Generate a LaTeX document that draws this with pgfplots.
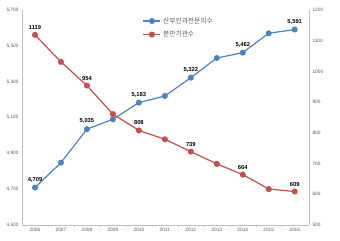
\documentclass[border=0pt]{standalone}
\usepackage{pgfplots}
\pgfplotsset{compat=1.18}
\usepackage{fontspec}
\setmainfont{Liberation Sans}
\newfontfamily\kr{Noto Sans CJK KR}
\definecolor{sblue}{HTML}{4F81BD}
\definecolor{sred}{HTML}{C0504D}
\definecolor{axgray}{HTML}{BFBFBF}
\definecolor{txtgray}{HTML}{595959}
\begin{document}
\begin{tikzpicture}
\pgfplotsset{
  every axis/.append style={
    scale only axis, width=287bp, height=215bp,
    xmin=2005.5, xmax=2016.55,
    axis line style={axgray, line width=0.6pt},
    tick style={axgray, line width=0.5pt},
    tick label style={font=\fontsize{4.8}{5}\selectfont, text=txtgray},
    /pgf/number format/assume math mode=true,
  }
}
\begin{axis}[
  axis y line*=left, axis x line*=bottom,
  ymin=4500, ymax=5700, ytick={4500,4700,...,5700},
  yticklabel style={/pgf/number format/1000 sep={,}},
  xtick={2006,...,2016},
  xticklabel style={/pgf/number format/1000 sep={}},
  major tick length=0pt,
  extra x ticks={2006.5,2007.5,...,2015.5},
  extra x tick labels={},
  extra x tick style={major tick length=2bp, tick align=outside},
  ytick style={draw=none},
  legend style={draw=none, fill=none, at={(0.41,0.985)}, anchor=north west,
    font=\kr\fontsize{6.8}{8}\selectfont, text=txtgray, row sep=2.5bp},
  legend cell align=left,
]
\addplot[sblue, line width=1.2pt, mark=*, mark size=2.4pt,
  nodes near coords, point meta=explicit symbolic,
  every node near coord/.style={font=\bfseries\fontsize{5.8}{6}\selectfont, text=black, anchor=south, yshift=1.5bp}]
coordinates {
(2006,4709) [4,709]
(2007,4848) []
(2008,5035) [5,035]
(2009,5090) []
(2010,5183) [5,183]
(2011,5220) []
(2012,5322) [5,322]
(2013,5432) []
(2014,5462) [5,462]
(2015,5570) []
(2016,5591) [5,591]
};
\addlegendentry{산부인과전문의수}
\addlegendimage{sred, line width=1.2pt, mark=*, mark size=2.4pt}
\addlegendentry{분만기관수}
\end{axis}
\begin{axis}[
  axis y line*=right, axis x line=none,
  ymin=500, ymax=1200, ytick={500,600,...,1200},
  yticklabel style={/pgf/number format/1000 sep={}},
  ytick style={draw=none},
]
\addplot[sred, line width=1.2pt, mark=*, mark size=2.4pt,
  nodes near coords, point meta=explicit symbolic,
  every node near coord/.style={font=\bfseries\fontsize{5.8}{6}\selectfont, text=black, anchor=south, yshift=1.5bp}]
coordinates {
(2006,1119) [1119]
(2007,1031) []
(2008,954) [954]
(2009,861) []
(2010,808) [808]
(2011,779) []
(2012,739) [739]
(2013,699) []
(2014,664) [664]
(2015,617) []
(2016,609) [609]
};
\end{axis}
\path[use as bounding box] (-22bp,-16bp) rectangle (318bp,225bp);
\end{tikzpicture}
\end{document}
